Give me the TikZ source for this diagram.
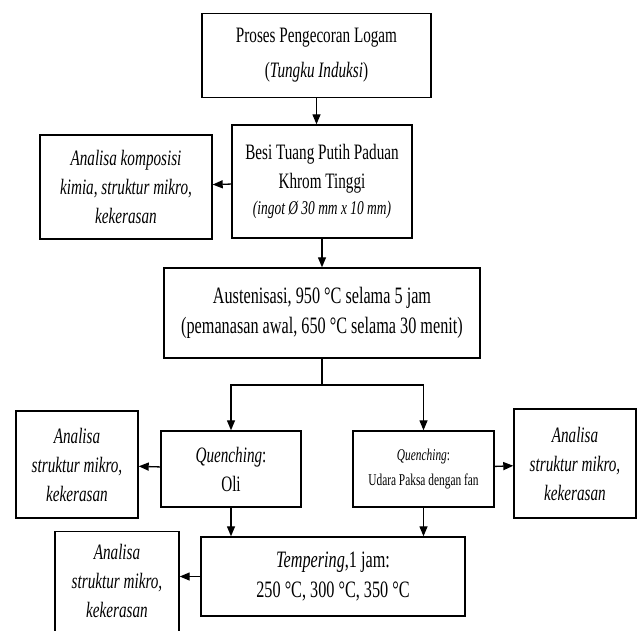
\documentclass[tikz,border=0pt]{standalone}
\usepackage{fontspec}
\setmainfont{Liberation Serif}[FakeStretch=0.69]
\usetikzlibrary{arrows.meta,positioning}
\newcommand{\bigtxt}{\fontsize{22}{29}\selectfont}
\newcommand{\midtxt}{\fontsize{23.5}{30}\selectfont}

\begin{document}
\begin{tikzpicture}[x=1pt,y=-1pt,
    box/.style={draw,line width=1.4pt,align=center,inner sep=0pt,font=\bigtxt},
    note/.style={align=center,inner sep=0pt,font=\bigtxt\itshape},
    arr/.style={-{Triangle[length=10pt,width=8pt]},line width=1.3pt}]
    \useasboundingbox (0,0) rectangle (637,630);
    % main line
    \node[box,minimum width=229,minimum height=84] (cast) at (316.5,55.5)
      {Proses Pengecoran Logam\\[6pt](\textit{Tungku Induksi})};
    \node[box,minimum width=180,minimum height=113] (iron) at (322,181.5)
      {Besi Tuang Putih Paduan\\Khrom Tinggi\\[-3pt]{\fontsize{19.5}{24}\selectfont\itshape (ingot Ø 30 mm x 10 mm)}};
    \node[box,font=\midtxt,minimum width=316,minimum height=90] (aus) at (322,313)
      {Austenisasi, 950 °C selama 5 jam\\(pemanasan awal, 650 °C selama 30 menit)};
    \node[box,minimum width=140,minimum height=76] (oli) at (231,469)
      {\textit{Quenching}:\\Oli};
    \node[box,font=\fontsize{16.5}{25}\selectfont,minimum width=141,minimum height=76] (fan) at (423.5,469)
      {\textit{Quenching}:\\Udara Paksa dengan fan};
    \node[box,font=\midtxt,minimum width=264,minimum height=79] (temp) at (333,576.5)
      {\textit{Tempering},1 jam:\\250 °C, 300 °C, 350 °C};
    % analisa
    \node[box,font=\bigtxt\itshape,minimum width=172,minimum height=104] (anakom) at (126,187)
      {Analisa komposisi\\kimia, struktur mikro,\\kekerasan};
    \node[box,font=\bigtxt\itshape,minimum width=122,minimum height=107] (anaoli) at (77,464.5)
      {Analisa\\struktur mikro,\\kekerasan};
    \node[box,font=\bigtxt\itshape,minimum width=122,minimum height=109] (anafan) at (575,463.5)
      {Analisa\\struktur mikro,\\kekerasan};
    \node[box,minimum width=124,minimum height=118,anchor=north] (anatemp) at (117,531) {};
    \node[note] (anatemptxt) at (117,581) {Analisa\\struktur mikro,\\kekerasan};
    % connectors
    \draw[arr] (cast) -- (cast.south |- iron.north);
    \draw[arr] (iron.south) -- (aus.north);
    \draw[arr] (iron) -- (anakom);
    \coordinate (split) at (322,385);
    \draw[line width=1.3pt] (aus.south) -- (split);
    \draw[arr] (split) -| (oli.north);
    \draw[arr] (split) -| (fan.north);
    \draw[arr] (oli) -- (anaoli);
    \draw[arr] (fan) -- (anafan);
    \draw[arr] (oli.south) -- (oli.south |- temp.north);
    \draw[arr] (fan.south) -- (fan.south |- temp.north);
    \draw[arr] (temp) -- (temp.west -| anatemp.east);
\end{tikzpicture}
\end{document}
